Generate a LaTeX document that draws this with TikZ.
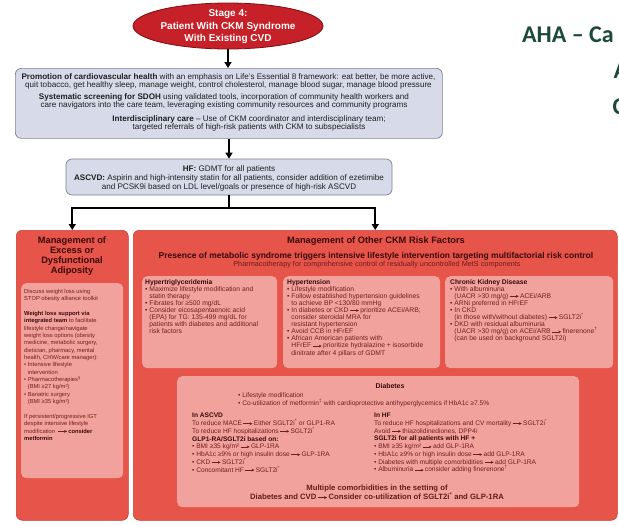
\documentclass[tikz,border=0pt]{standalone}
\usepackage{fontspec}
\setmainfont{Liberation Sans}
\newfontfamily\ahafont{Carlito}
\usetikzlibrary{arrows.meta,shapes.geometric}
\definecolor{ellred}{HTML}{C62028}
\definecolor{ellborder}{HTML}{7D1015}
\definecolor{greybox}{HTML}{D7DAE9}
\definecolor{greyborder}{HTML}{7F8193}
\definecolor{redbox}{HTML}{E6544A}
\definecolor{redborder}{HTML}{C93A30}
\definecolor{pinkbox}{HTML}{F2A29C}
\definecolor{darktxt}{HTML}{3A0A0A}
\definecolor{bodytxt}{HTML}{6E1F1F}
\definecolor{ahagreen}{HTML}{1D4A38}
\newcommand\xbul{\textbullet\ }
\newcommand\xind{\phantom{\textbullet\ }}
\newcommand\xarr{\,\tikz[baseline=-0.55ex]\draw[line width=0.6pt,-{Stealth[length=2.8pt,width=2.8pt]}] (0pt,0pt) -- (9pt,0pt);\,}
\newcommand\xhd[1]{{\color{darktxt}\bfseries #1}}
\newcommand\xsup[1]{\textsuperscript{#1}}
\begin{document}
\begin{tikzpicture}[x=1pt,y=-1pt,
  stageell/.style={ellipse, draw=ellborder, line width=0.8pt, fill=ellred, minimum width=190pt, minimum height=46pt, inner sep=0pt},
  stagetxt/.style={text=white, font=\bfseries\fontsize{10}{12.5}\selectfont, align=center, inner sep=0pt},
  gbox/.style={draw=greyborder, line width=0.7pt, fill=greybox, rounded corners=6pt, inner sep=0pt},
  gtxt/.style={font=\fontsize{8.1}{8}\selectfont, align=center, inner sep=0pt, text=black!88},
  rbox/.style={draw=redborder, line width=0.5pt, fill=redbox, rounded corners=6pt, anchor=north west, inner sep=0pt},
  pbox/.style={fill=pinkbox, rounded corners=5pt, anchor=north west, inner sep=0pt},
  rtitle/.style={font=\bfseries\fontsize{9.3}{10.2}\selectfont, text=darktxt, align=center, inner sep=0pt},
  ptxt/.style={font=\fontsize{6.75}{7.1}\selectfont, text=bodytxt, align=left, anchor=north west, inner sep=0pt},
  ltxt/.style={font=\fontsize{5.8}{7.35}\selectfont, text=bodytxt, align=left, anchor=north west, inner sep=0pt},
  dtxt/.style={font=\fontsize{6.6}{7.75}\selectfont, text=bodytxt, align=left, anchor=north west, inner sep=0pt},
  flow/.style={line width=1.8pt, draw=black},
  flowarrow/.style={flow, -{Triangle[length=6pt,width=7pt]}},
  ahatxt/.style={font=\ahafont\bfseries\fontsize{24}{28}\selectfont, text=ahagreen, anchor=base west, inner sep=0pt}
]
\useasboundingbox (0,0) rectangle (619,525);
\fill[white] (0,0) rectangle (619,525);

% slide title (cut at the right edge, as in the reference)
\begin{scope}
\clip (0,0) rectangle (619,525);
\node[ahatxt] (aha1) at (522,42) {AHA – Ca};
\node[ahatxt] (aha2) at (613.5,78) {A};
\node[ahatxt] (aha3) at (612.5,114) {C};
\end{scope}

% stage ellipse
\node[stageell] (stage) at (228,26) {};
\node[stagetxt] (stagelabel) at (228,27) {Stage 4:\\Patient With CKM Syndrome\\With Existing CVD};

% promotion box
\node[gbox, minimum width=427pt, minimum height=70pt, anchor=north west] (promo) at (15,68) {};
\node[gtxt] (promo1) at (228.5,81.5) {\textbf{Promotion of cardiovascular health} with an emphasis on Life's Essential 8 framework: eat better, be more active,\\quit tobacco, get healthy sleep, manage weight, control cholesterol, manage blood sugar, manage blood pressure};
\node[gtxt] (promo2) at (224,101.5) {\textbf{Systematic screening for SDOH} using validated tools, incorporation of community health workers and\\care navigators into the care team, leveraging existing community resources and community programs};
\node[gtxt] (promo3) at (249,123) {\textbf{Interdisciplinary care} – Use of CKM coordinator and interdisciplinary team;\\targeted referrals of high-risk patients with CKM to subspecialists};

% HF / ASCVD box
\node[gbox, minimum width=326pt, minimum height=36pt] (hf) at (229,177) {};
\node[gtxt, font=\fontsize{8.1}{9}\selectfont] (hftxt) at (229,178) {\textbf{HF:} GDMT for all patients\\\textbf{ASCVD:} Aspirin and high-intensity statin for all patients, consider addition of ezetimibe\\and PCSK9i based on LDL level/goals or presence of high-risk ASCVD};

% lower boxes
\node[rbox, minimum width=112pt, minimum height=290pt] (left) at (16,230) {};
\node[rbox, minimum width=484pt, minimum height=290pt] (right) at (133,230) {};

% connectors
\draw[flowarrow] (stage.south) -- (promo.north -| stage.south);
\draw[flowarrow] (promo.south -| hf.north) -- (hf.north);
\coordinate (split) at (229,208);
\draw[flow] (hf.south) -- (split);
\draw[flowarrow] (split) -| (left.north);
\draw[flowarrow] (split) -| (right.north);

% left column
\node[rtitle] (lefttitle) at (72,256) {Management of\\Excess or\\Dysfunctional\\Adiposity};
\node[pbox, minimum width=102pt, minimum height=195pt] (leftinner) at (21,283) {};
\node[ltxt] (lefttxt) at (24,289) {Discuss weight loss using\\STOP obesity alliance toolkit\\[7.35pt]
\xhd{Weight loss support via}\\\xhd{integrated team} to facilitate\\lifestyle change/navigate\\weight loss options (obesity\\medicine, metabolic surgery,\\dietician, pharmacy, mental\\health, CHW/care manager):\\
\xbul Intensive lifestyle\\\xind intervention\\\xbul Pharmacotherapies\xsup{§}\\\xind (BMI ≥27 kg/m²)\\\xbul Bariatric surgery\\\xind (BMI ≥35 kg/m²)\\[7.35pt]
If persistent/progressive IGT\\despite intensive lifestyle\\modification \xarr\xhd{consider}\\\xhd{metformin}};

% right column header
\node[rtitle] (righttitle) at (376,241.5) {Management of Other CKM Risk Factors};
\node[rtitle, font=\bfseries\fontsize{8.5}{9}\selectfont] (rightsub) at (376,256) {Presence of metabolic syndrome triggers intensive lifestyle intervention targeting multifactorial risk control};
\node[rtitle, font=\fontsize{7.3}{8}\selectfont, text=bodytxt] (rightsub2) at (377,264.5) {Pharmacotherapy for comprehensive control of residually uncontrolled MetS components};

% hypertriglyceridemia
\node[pbox, minimum width=135pt, minimum height=92pt] (tg) at (142,276) {};
\node[ptxt] (tgtxt) at (145,279) {\xhd{Hypertriglyceridemia}\\\xbul Maximize lifestyle modification and\\\xind statin therapy\\\xbul Fibrates for ≥500 mg/dL\\\xbul Consider eicosapentaenoic acid\\\xind (EPA) for TG: 135-499 mg/dL for\\\xind patients with diabetes and additional\\\xind risk factors};

% hypertension
\node[pbox, minimum width=157pt, minimum height=92pt] (htn) at (283,276) {};
\node[ptxt] (htntxt) at (287,279) {\xhd{Hypertension}\\\xbul Lifestyle modification\\\xbul Follow established hypertension guidelines\\\xind to achieve BP <130/80 mmHg\\\xbul In diabetes or CKD\xarr prioritize ACEi/ARB;\\\xind consider steroidal MRA for\\\xind resistant hypertension\\\xbul Avoid CCB in HFrEF\\\xbul African American patients with\\\xind HFrEF\xarr prioritize hydralazine + isosorbide\\\xind dinitrate after 4 pillars of GDMT};

% CKD
\node[pbox, minimum width=168pt, minimum height=92pt] (ckd) at (445,276) {};
\node[ptxt] (ckdtxt) at (450,279) {\xhd{Chronic Kidney Disease}\\\xbul With albuminuria\\\xind (UACR >30 mg/g)\xarr ACEi/ARB\\\xbul ARNi preferred in HFrEF\\\xbul In CKD\\\xind (in those with/without diabetes)\xarr SGLT2i\xsup{*}\\\xbul DKD with residual albuminuria\\\xind (UACR >30 mg/g) on ACEi/ARB\xarr finerenone\xsup{†}\\\xind (can be used on background SGLT2i)};

% diabetes
\node[pbox, minimum width=402pt, minimum height=131pt] (diab) at (177,376) {};
\node[rtitle, font=\bfseries\fontsize{6.9}{7.5}\selectfont] (diabtitle) at (390,386) {Diabetes};
\node[dtxt] (diabtop) at (238,393) {\xbul Lifestyle modification\\\xbul Co-utilization of metformin\xsup{‡} with cardioprotective antihyperglycemics if HbA1c ≥7.5\%};
\node[dtxt] (diabasc) at (192,413) {\xhd{In ASCVD}\\To reduce MACE\xarr Either SGLT2i\xsup{*} or GLP1-RA\\To reduce HF hospitalizations\xarr SGLT2i\xsup{*}\\\xhd{GLP1-RA/SGLT2i based on:}\\\xbul BMI ≥35 kg/m²\xarr GLP-1RA\\\xbul HbA1c ≥9\% or high insulin dose\xarr GLP-1RA\\\xbul CKD\xarr SGLT2i\xsup{*}\\\xbul Concomitant HF\xarr SGLT2i\xsup{*}};
\node[dtxt] (diabhf) at (374,413) {\xhd{In HF}\\To reduce HF hospitalizations and CV mortality\xarr SGLT2i\xsup{*}\\Avoid\xarr thiazolidinediones, DPP4i\\\xhd{SGLT2i for all patients with HF +}\\\xbul BMI ≥35 kg/m²\xarr add GLP-1RA\\\xbul HbA1c ≥9\% or high insulin dose\xarr add GLP-1RA\\\xbul Diabetes with multiple comorbidities\xarr add GLP-1RA\\\xbul Albuminuria\xarr consider adding finerenone\xsup{†}};
\node[rtitle, font=\bfseries\fontsize{7.7}{9}\selectfont, text=bodytxt!80!darktxt] (diabbottom) at (377,492.5) {Multiple comorbidities in the setting of\\Diabetes and CVD\xarr Consider co-utilization of SGLT2i\xsup{*} and GLP-1RA};
\end{tikzpicture}
\end{document}
